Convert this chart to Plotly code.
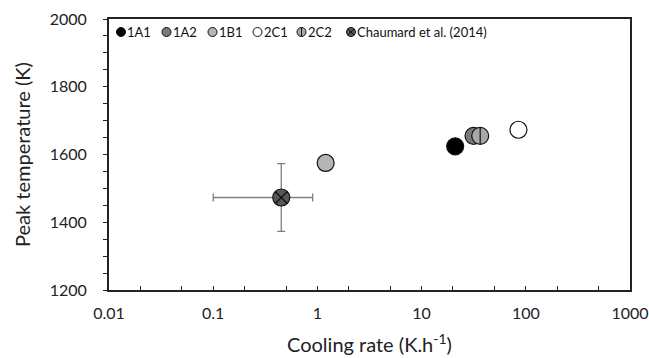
import plotly.graph_objects as go

# ---- data ----
samples = ["1B1", "Chaumard et al. (2014)", "1A1", "1A2", "2C2", "2C1"]
cooling_rate = [1.2, 0.45, 21, 31.5, 36.5, 85]
peak_temp = [1575, 1473, 1624, 1655, 1655, 1673]
fill_colors = ["#b4b4b4", "#575757", "#000000", "#7a7a7a", "#a8a8a8", "#ffffff"]
symbols = ["circle", "circle-x", "circle", "circle", "circle", "circle"]

chaumard_x_err_plus = 0.45
chaumard_x_err_minus = 0.35
chaumard_y_err = 100

legend_labels = ["1A1", "1A2", "1B1", "2C1", "2C2", "Chaumard et al. (2014)"]
legend_colors = ["#000000", "#7a7a7a", "#b4b4b4", "#ffffff", "#a8a8a8", "#575757"]

x_ticks = [0.01, 0.1, 1, 10, 100, 1000]
x_ticklabels = ["0.01", "0.1", "1", "10", "100", "1000"]
y_ticks = [1200, 1400, 1600, 1800, 2000]

FONT = "Lato, 'Open Sans', sans-serif"

fig = go.Figure()

for i, name in enumerate(samples):
    kw = {}
    if name.startswith("Chaumard"):
        kw["error_x"] = dict(type="data", symmetric=False, array=[chaumard_x_err_plus],
                             arrayminus=[chaumard_x_err_minus], color="#7f7f7f",
                             thickness=1.3, width=4)
        kw["error_y"] = dict(type="data", array=[chaumard_y_err], color="#7f7f7f",
                             thickness=1.3, width=4)
    fig.add_trace(go.Scatter(
        x=[cooling_rate[i]], y=[peak_temp[i]], mode="markers", name=name,
        showlegend=False,
        marker=dict(symbol=symbols[i], size=17, color=fill_colors[i],
                    line=dict(color="#111111", width=1.2)),
        **kw))
    if name == "2C2":
        fig.add_trace(go.Scatter(
            x=[cooling_rate[i]], y=[peak_temp[i]], mode="markers", showlegend=False,
            marker=dict(symbol="line-ns", size=12, line=dict(color="#111111", width=1.2)),
            hoverinfo="skip"))

# ---- manual legend (layout shapes + text) ----
W0, W1, H0, H1 = 109, 630, 19, 290
def px(xp):
    return (xp - W0) / (W1 - W0)
def py(yp):
    return (H1 - yp) / (H1 - H0)

legend_marker_px = [121, 166.5, 212.5, 257.5, 301.5, 351]
legend_y_px = 32
shapes = []
annotations = []
for i, lab in enumerate(legend_labels):
    cx = px(legend_marker_px[i])
    cy = py(legend_y_px)
    shapes.append(dict(type="circle", xref="paper", yref="paper", xsizemode="pixel",
                       ysizemode="pixel", xanchor=cx, yanchor=cy, x0=-4.5, x1=4.5,
                       y0=-4.5, y1=4.5, fillcolor=legend_colors[i],
                       line=dict(color="#111111", width=1)))
    if lab == "2C2":
        shapes.append(dict(type="line", xref="paper", yref="paper", xsizemode="pixel",
                           ysizemode="pixel", xanchor=cx, yanchor=cy, x0=0, x1=0,
                           y0=-4.5, y1=4.5, line=dict(color="#111111", width=1)))
    if lab.startswith("Chaumard"):
        for s in (1, -1):
            shapes.append(dict(type="line", xref="paper", yref="paper", xsizemode="pixel",
                               ysizemode="pixel", xanchor=cx, yanchor=cy, x0=-3.2, x1=3.2,
                               y0=-3.2 * s, y1=3.2 * s, line=dict(color="#111111", width=1)))
    annotations.append(dict(text=lab, xref="paper", yref="paper", x=px(legend_marker_px[i] + 4),
                            y=cy, xanchor="left", yanchor="middle", showarrow=False,
                            font=dict(family=FONT, size=13, color="#111111")))

fig.update_layout(
    width=649, height=358,
    margin=dict(l=W0, r=649 - W1, t=H0, b=358 - H1),
    paper_bgcolor="white", plot_bgcolor="white",
    font=dict(family=FONT, color="#222222"),
    shapes=shapes, annotations=annotations,
    showlegend=False,
)
fig.update_xaxes(
    type="log", range=[-2, 3], tickvals=x_ticks, ticktext=x_ticklabels,
    ticks="inside", ticklen=4, tickcolor="#222222", tickwidth=1.2,
    minor=dict(ticks="inside", ticklen=4, tickcolor="#222222", tickwidth=1.2, showgrid=False),
    showgrid=False, zeroline=False, automargin=False,
    showline=True, linecolor="#222222", linewidth=1.8, mirror=True,
    tickfont=dict(size=16, family=FONT, color="#222222"),
    ticklabelstandoff=8, ticklabeloverflow="allow",
    title=dict(text="Cooling rate (K.h<sup>-1</sup>)", font=dict(size=20, family=FONT, color="#222222"),
               standoff=17),
)
fig.update_yaxes(
    range=[1200, 2000], tickvals=y_ticks,
    ticks="outside", ticklen=4, tickcolor="#222222", tickwidth=1.2,
    minor=dict(dtick=50, ticks="outside", ticklen=4, tickcolor="#222222", tickwidth=1.2, showgrid=False),
    showgrid=False, zeroline=False, automargin=False,
    showline=True, linecolor="#222222", linewidth=1.8, mirror=True,
    tickfont=dict(size=16, family=FONT, color="#222222"),
    ticklabelstandoff=13, ticklabeloverflow="allow",
    title=dict(text="Peak temperature (K)", font=dict(size=20, family=FONT, color="#222222"),
               standoff=14),
)

fig.write_html("out.html", config={"displayModeBar": False},
               post_script="document.body.style.margin='0';")
